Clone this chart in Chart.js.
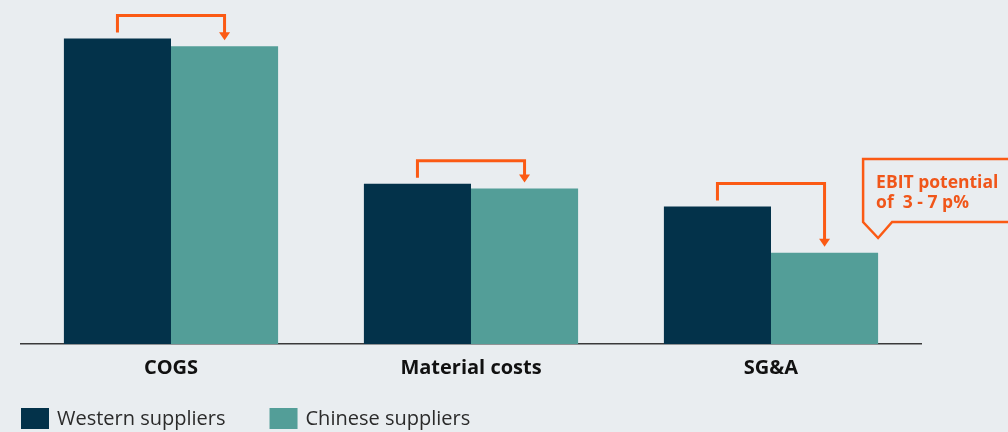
<!DOCTYPE html>
<html>
<head>
<meta charset="utf-8">
<script src="https://cdn.jsdelivr.net/npm/chart.js@4/dist/chart.umd.min.js"></script>
<style>
  html, body { margin: 0; padding: 0; background: #e9edf0; }
  #wrap { width: 1008px; height: 432px; position: relative; }
</style>
</head>
<body>
<div id="wrap"><canvas id="c" width="1008" height="432"></canvas></div>
<script>
const categories = ["COGS", "Material costs", "SG&A"];
const westernValues = [100, 52.5, 45];
const chineseValues = [97.5, 50.9, 29.9];
const seriesNames = ["Western suppliers", "Chinese suppliers"];
const calloutLines = ["EBIT potential", "of  3 - 7 p%"];

const ORANGE = "#fb5a14";
const FONT = "'Open Sans', 'Noto Sans', sans-serif";

const overlay = {
  id: "overlay",
  afterDatasetsDraw(chart) {
    const ctx = chart.ctx;
    const w = chart.getDatasetMeta(0).data;
    const c = chart.getDatasetMeta(1).data;
    ctx.save();
    ctx.strokeStyle = ORANGE;
    ctx.fillStyle = ORANGE;
    ctx.lineWidth = 3;
    ctx.lineJoin = "miter";
    for (let i = 0; i < w.length; i++) {
      const x1 = w[i].x, y1 = w[i].y;
      const x2 = c[i].x, y2 = c[i].y;
      const top = y1 - 23;
      const tipY = y2 - 6;
      ctx.beginPath();
      ctx.moveTo(x1, y1 - 6);
      ctx.lineTo(x1, top);
      ctx.lineTo(x2, top);
      ctx.lineTo(x2, tipY - 6);
      ctx.stroke();
      ctx.beginPath();
      ctx.moveTo(x2 - 5.5, tipY - 8);
      ctx.lineTo(x2 + 5.5, tipY - 8);
      ctx.lineTo(x2, tipY);
      ctx.closePath();
      ctx.fill();
    }
    // callout box near last chinese bar
    const last = c[c.length - 1];
    const right = last.x + last.width / 2;
    const bx = right - 15, by = 159, bb = 222;
    const tipX = right, tipYY = 238;
    ctx.lineWidth = 2.5;
    ctx.beginPath();
    ctx.moveTo(1015, by);
    ctx.lineTo(bx, by);
    ctx.lineTo(bx, bb);
    ctx.lineTo(tipX, tipYY);
    ctx.lineTo(tipX + 14, bb);
    ctx.lineTo(1015, bb);
    ctx.stroke();
    ctx.font = "bold 17.5px " + FONT;
    ctx.textBaseline = "alphabetic";
    ctx.textAlign = "left";
    ctx.fillStyle = "#f0561a";
    ctx.fillText(calloutLines[0], bx + 13, 188);
    ctx.fillText(calloutLines[1], bx + 13, 208);
    ctx.restore();
  },
  afterDraw(chart) {
    const ctx = chart.ctx;
    ctx.save();
    ctx.font = "20px " + FONT;
    ctx.textBaseline = "middle";
    ctx.textAlign = "left";
    let x = 21;
    chart.data.datasets.forEach((ds) => {
      ctx.fillStyle = ds.backgroundColor;
      ctx.fillRect(x, 408, 28, 21);
      ctx.fillStyle = "#2b2b2b";
      ctx.fillText(ds.label, x + 36, 419);
      x += 36 + ctx.measureText(ds.label).width + 44;
    });
    ctx.restore();
  }
};

new Chart(document.getElementById("c"), {
  type: "bar",
  data: {
    labels: categories,
    datasets: [
      { label: seriesNames[0], data: westernValues, backgroundColor: "#03324a" },
      { label: seriesNames[1], data: chineseValues, backgroundColor: "#539e98" }
    ]
  },
  options: {
    responsive: false,
    animation: false,
    layout: { padding: { left: 21, right: 87, top: 8, bottom: 40 } },
    categoryPercentage: 0.714,
    barPercentage: 1.0,
    plugins: { legend: { display: false }, tooltip: { enabled: false } },
    scales: {
      x: {
        grid: { display: false, drawTicks: false },
        border: { display: true, color: "#3a3a3a", width: 1.5 },
        ticks: { color: "#111", font: { family: FONT, size: 20, weight: "bold" }, padding: 12 }
      },
      y: { display: false, min: 0, max: 110 }
    }
  },
  plugins: [overlay]
});
</script>
</body>
</html>
